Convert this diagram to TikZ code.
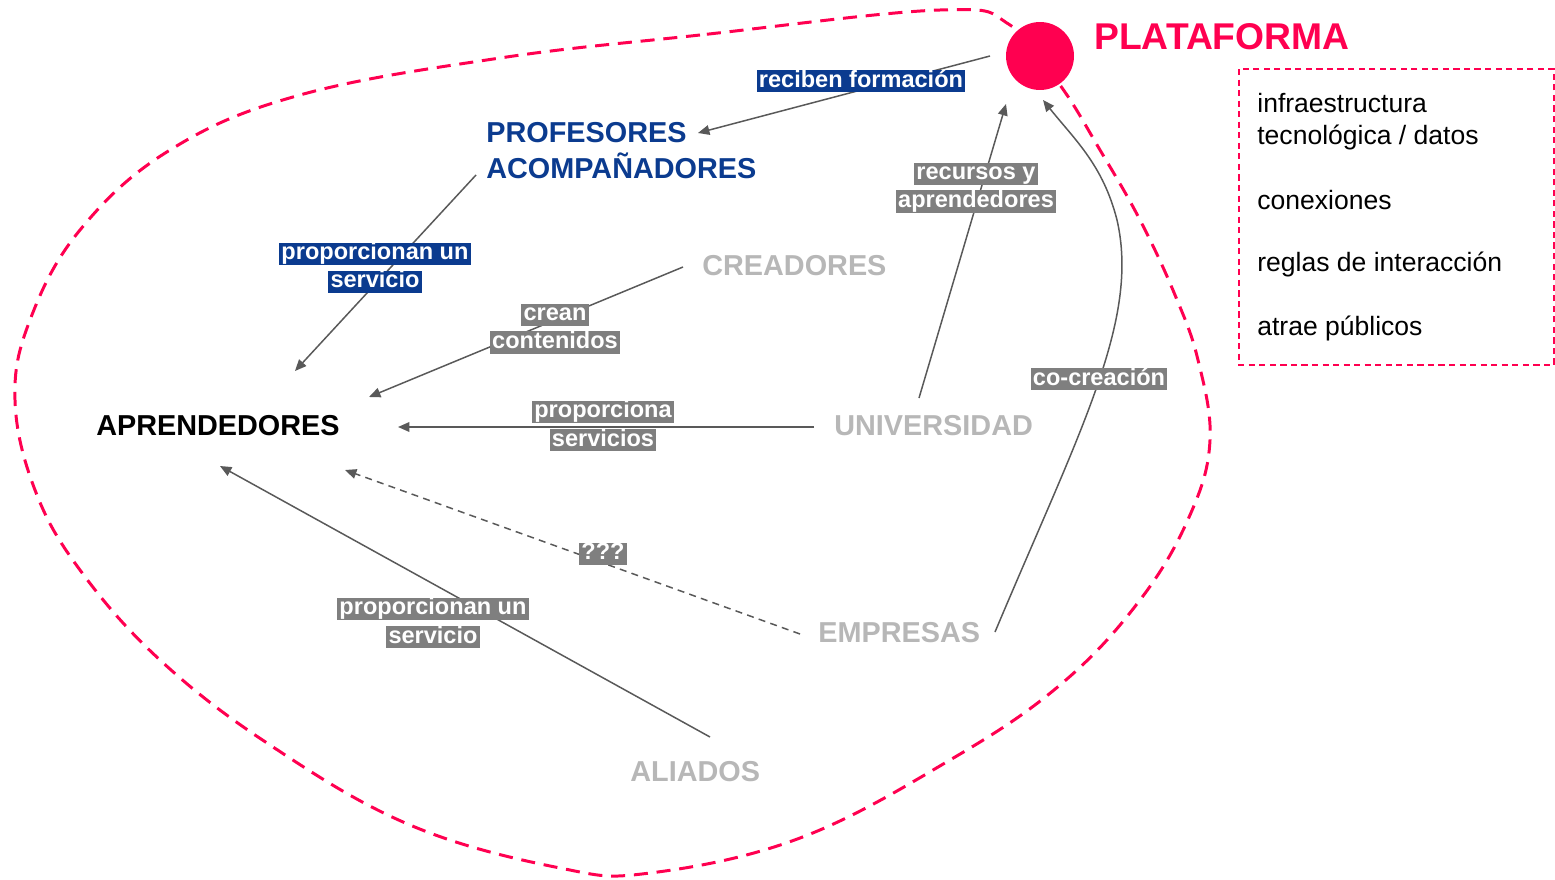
\documentclass[tikz,border=0pt]{standalone}
\usepackage{fontspec}
\setmainfont{Liberation Sans}
\usetikzlibrary{arrows.meta}
\definecolor{pinkc}{HTML}{FF0050}
\definecolor{navyc}{HTML}{0B3B8F}
\definecolor{lblgray}{HTML}{7F7F7F}
\definecolor{namegray}{HTML}{B7B7B7}
\definecolor{arrc}{HTML}{595959}
\newcommand{\hlb}[2]{{\setlength{\fboxsep}{0pt}\colorbox{#1}{\hspace{1.2pt}\rule[-0.22em]{0pt}{0.9em}#2\hspace{1.2pt}}}}
\begin{document}
\begin{tikzpicture}[x=0.02cm,y=-0.02cm,
  actor/.style={font=\bfseries\fontsize{16.4}{19.5}\selectfont, inner sep=0pt, anchor=west},
  lbl/.style={font=\bfseries\fontsize{13.4}{16}\selectfont, text=white, align=center, inner sep=0pt},
  conn/.style={draw=arrc, line width=0.85pt, -{Triangle[length=6.5pt,width=5.5pt]}},
  boxtext/.style={font=\fontsize{15.1}{18.2}\selectfont, inner sep=0pt, anchor=west, align=left}]
\useasboundingbox (0,0) rectangle (1555,879);

% dashed platform boundary
\draw[pinkc, line width=1.7pt, dash pattern=on 8pt off 5pt]
  plot[smooth cycle, tension=0.65] coordinates {
  (940,10) (700,35) (500,58) (300,95) (170,150) (80,230) (30,320) (15,400) (35,490)
  (80,570) (160,660) (270,745) (410,825) (560,868) (650,873) (800,838) (950,760)
  (1060,685) (1140,600) (1190,515) (1210,440) (1198,360) (1175,295) (1140,220)
  (1100,150) (1060,85) (1010,25)};

% platform
\node[circle, fill=pinkc, inner sep=0pt, minimum size=1.36cm] (plat) at (1040,56) {};
\node[font=\bfseries\fontsize{21.2}{24}\selectfont, text=pinkc, inner sep=0pt, anchor=west] (platlbl) at (1094,37) {PLATAFORMA};

% right box
\draw[color=pinkc, line width=0.95pt, dash pattern=on 3.5pt off 2.5pt] (1239,69) rectangle (1554,365);
\node[boxtext] (b1) at (1257,122) {infraestructura\\tecnológica / datos};
\node[boxtext] (b2) at (1257,200) {conexiones};
\node[boxtext] (b3) at (1257,264) {reglas de interacción};
\node[boxtext] (b4) at (1257,328) {atrae públicos};

% actors
\node[actor, text=navyc, align=left] (prof) at (486,151) {PROFESORES\\[1pt]ACOMPAÑADORES};
\node[actor, anchor=center] (apr) at (218,426) {APRENDEDORES};
\node[actor, text=namegray] (crea) at (702,266) {CREADORES};
\node[actor, text=namegray] (univ) at (834,426) {UNIVERSIDAD};
\node[actor, text=namegray] (emp) at (818,633) {EMPRESAS};
\node[actor, text=namegray] (ali) at (630,772) {ALIADOS};

% connector endpoints
\coordinate (platA) at (990,56);
\coordinate (profIn) at (698,133);
\coordinate (profOut) at (476,175);
\coordinate (aprTop) at (295,371);
\coordinate (creaOut) at (683,267);
\coordinate (aprTR) at (369,397);
\coordinate (univOut) at (814,427);
\coordinate (aprR) at (398,427);
\coordinate (univUp) at (919,398);
\coordinate (platB) at (1006,104);
\coordinate (empR) at (995,632);
\coordinate (platC) at (1043,100);
\coordinate (empL) at (800,634);
\coordinate (aprBR) at (345,470);
\coordinate (aliOut) at (710,737);
\coordinate (aprB) at (220,466);

% connectors
\draw[conn] (platA) -- (profIn);
\draw[conn] (profOut) -- (aprTop);
\draw[conn] (creaOut) -- (aprTR);
\draw[conn] (univOut) -- (aprR);
\draw[conn] (univUp) -- (platB);
\draw[conn] (empR) .. controls (1080,430) and (1140,320) .. (1117,220) .. controls (1103,165) and (1075,140) .. (platC);
\draw[conn, dash pattern=on 4pt off 3pt] (empL) -- (aprBR);
\draw[conn] (aliOut) -- (aprB);

% labels
\node[lbl] (l1) at (861,81) {\hlb{navyc}{reciben formación}};
\node[lbl] (l2) at (375,268) {\hlb{navyc}{proporcionan un}\\\hlb{navyc}{servicio}};
\node[lbl] (l3) at (555,329) {\hlb{lblgray}{crean}\\\hlb{lblgray}{contenidos}};
\node[lbl] (l4) at (603,426) {\hlb{lblgray}{proporciona}\\\hlb{lblgray}{servicios}};
\node[lbl] (l5) at (976,188) {\hlb{lblgray}{recursos y}\\\hlb{lblgray}{aprendedores}};
\node[lbl] (l6) at (1099,379) {\hlb{lblgray}{co-creación}};
\node[lbl] (l7) at (603,554) {\hlb{lblgray}{???}};
\node[lbl] (l8) at (433,623) {\hlb{lblgray}{proporcionan un}\\\hlb{lblgray}{servicio}};
\end{tikzpicture}
\end{document}
